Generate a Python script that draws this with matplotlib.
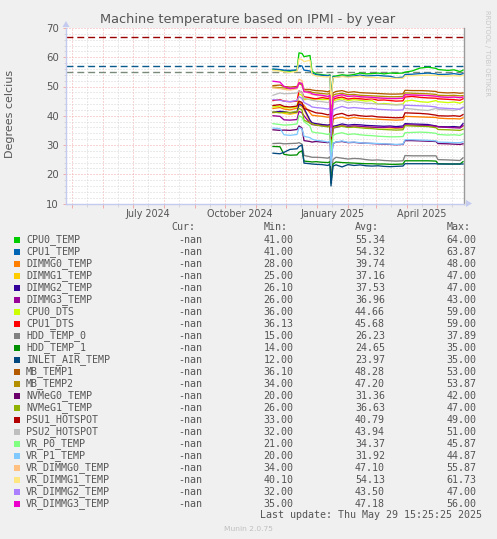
import matplotlib
matplotlib.use("Agg")
import matplotlib.pyplot as plt
import matplotlib.dates as mdates
from matplotlib.ticker import MultipleLocator, FuncFormatter, NullFormatter
from matplotlib.patches import Rectangle, Polygon
import datetime as dt

# ---------------- data ----------------
dates = ["2024-11-18", "2024-11-25", "2024-11-29", "2024-12-05", "2024-12-12", "2024-12-14",
         "2024-12-17", "2024-12-19", "2024-12-25", "2024-12-27", "2024-12-31", "2025-01-06",
         "2025-01-12", "2025-01-14", "2025-01-15", "2025-01-17", "2025-01-20", "2025-01-26",
         "2025-02-01", "2025-02-07", "2025-02-13", "2025-02-19", "2025-02-25", "2025-03-03",
         "2025-03-09", "2025-03-15", "2025-03-21", "2025-03-28", "2025-03-30", "2025-04-06",
         "2025-04-14", "2025-04-22", "2025-04-30", "2025-05-02", "2025-05-12", "2025-05-18",
         "2025-05-24", "2025-05-27"]

cpu0_temp = [55.8, 55.6, 55.3, 55.2, 55.5, 61.5, 61.3, 60.2, 60.6, 55.2, 54.3, 54.0, 53.8, 54.0, 46.0, 53.5,
             53.6, 54.0, 53.8, 54.1, 54.6, 54.3, 54.4, 54.6, 54.3, 54.6, 54.5, 54.6, 54.9, 55.3, 56.3, 56.6,
             56.2, 55.8, 55.5, 55.7, 55.1, 55.6]
cpu1_temp = [56.0, 55.8, 55.6, 55.5, 55.7, 57.2, 57.0, 55.6, 55.3, 54.6, 54.0, 53.8, 53.7, 53.8, 45.0, 53.3,
             53.2, 53.5, 53.4, 53.6, 53.9, 53.6, 53.7, 53.8, 53.6, 53.5, 53.0, 53.2, 54.1, 54.2, 54.4, 54.6,
             54.3, 54.1, 54.2, 54.4, 54.1, 54.4]
dimmg0_temp = [42.5, 42.8, 42.3, 42.0, 42.6, 44.5, 44.0, 43.5, 41.0, 40.2, 40.0, 39.8, 39.5, 39.6, 31.0, 38.8,
               39.2, 39.5, 39.0, 39.4, 39.1, 39.0, 38.9, 38.8, 38.7, 38.6, 38.5, 38.6, 39.8, 39.7, 39.6, 39.5,
               39.4, 39.2, 39.0, 39.0, 38.9, 39.3]
dimmg1_temp = [41.0, 41.3, 40.8, 40.5, 41.0, 43.5, 43.0, 42.0, 38.0, 37.5, 37.2, 37.0, 36.6, 36.8, 28.0, 36.0,
               36.4, 36.7, 36.2, 36.5, 36.3, 36.1, 36.0, 36.0, 35.9, 35.8, 35.7, 35.8, 36.8, 36.7, 36.6, 36.5,
               36.4, 36.2, 36.1, 36.2, 36.0, 36.4]
dimmg2_temp = [41.2, 41.5, 41.4, 41.0, 41.3, 44.0, 43.5, 42.5, 38.5, 37.6, 37.3, 37.0, 36.8, 37.0, 28.0, 36.4,
               36.6, 37.2, 36.8, 37.0, 36.9, 36.7, 36.6, 36.5, 36.4, 36.5, 36.3, 36.5, 37.3, 37.2, 37.1, 37.0,
               36.5, 36.3, 36.2, 36.3, 36.1, 37.3]
dimmg3_temp = [40.0, 39.8, 38.6, 38.5, 38.7, 41.5, 41.0, 40.0, 37.5, 37.0, 36.8, 36.6, 36.3, 36.5, 27.0, 35.8,
               36.0, 36.5, 36.3, 36.5, 36.4, 36.2, 36.1, 36.0, 36.0, 36.1, 35.9, 36.0, 36.9, 36.8, 36.7, 36.6,
               36.4, 36.2, 36.0, 35.9, 35.8, 36.6]
cpu0_dts = [43.0, 43.3, 42.8, 42.7, 43.0, 47.5, 47.0, 45.5, 45.8, 45.5, 45.8, 45.5, 45.6, 45.3, 35.0, 45.0,
            45.4, 45.8, 45.2, 45.5, 45.3, 45.0, 45.2, 44.0, 44.2, 44.0, 43.8, 44.0, 45.0, 45.3, 44.8, 44.6,
            45.2, 44.8, 44.5, 44.7, 44.3, 44.8]
cpu1_dts = [45.2, 45.5, 45.0, 44.8, 45.0, 48.5, 48.0, 46.5, 46.2, 46.0, 45.8, 46.2, 45.9, 46.3, 36.0, 45.5,
            46.0, 46.4, 45.7, 46.0, 45.8, 45.6, 45.8, 45.3, 45.4, 45.2, 45.0, 45.1, 46.4, 46.6, 46.3, 46.1,
            46.0, 45.8, 45.6, 45.5, 45.3, 45.8]
hdd_temp_0 = [30.5, 30.6, 30.4, 30.5, 30.6, 30.8, 30.3, 26.4, 26.0, 25.8, 25.8, 25.7, 25.5, 26.0, 19.0, 25.0,
              25.8, 25.5, 25.2, 25.4, 25.3, 25.0, 24.8, 24.9, 24.7, 24.6, 24.5, 24.6, 26.4, 26.3, 26.3, 26.3,
              26.3, 25.0, 24.9, 24.8, 24.7, 25.6]
hdd_temp_1 = [29.5, 29.4, 26.8, 26.5, 26.6, 27.5, 28.0, 24.5, 24.3, 24.2, 24.3, 24.1, 24.0, 24.3, 17.0, 23.5,
              24.2, 24.0, 23.9, 23.8, 23.7, 23.6, 23.6, 23.5, 23.5, 23.4, 23.4, 23.5, 24.6, 24.6, 24.6, 24.6,
              24.5, 23.6, 23.5, 23.5, 23.5, 24.3]
inlet_air_temp = [27.2, 27.0, 27.5, 28.5, 28.7, 29.5, 30.0, 23.8, 23.6, 23.5, 23.4, 23.3, 23.0, 23.5, 16.0, 22.8,
                  23.2, 22.5, 23.3, 23.0, 23.2, 22.9, 22.8, 22.9, 22.7, 22.6, 22.7, 22.8, 23.6, 23.6, 23.6, 23.6,
                  23.6, 23.5, 23.5, 23.5, 23.5, 23.5]
mb_temp1 = [50.3, 50.5, 50.0, 49.8, 50.0, 51.2, 51.0, 49.0, 49.0, 48.8, 48.6, 48.5, 48.2, 48.6, 38.0, 47.8,
            48.3, 48.6, 48.0, 48.2, 47.9, 47.8, 47.7, 47.6, 47.5, 47.4, 47.4, 47.5, 48.7, 48.6, 48.6, 48.5,
            48.3, 48.0, 47.8, 47.9, 47.7, 47.8]
mb_temp2 = [49.8, 49.6, 49.5, 49.2, 49.5, 51.0, 50.5, 48.5, 48.3, 48.0, 47.8, 47.6, 47.4, 47.8, 37.0, 47.0,
            47.4, 47.7, 47.2, 47.3, 47.0, 46.9, 46.8, 46.7, 46.6, 46.5, 46.5, 46.6, 47.8, 47.7, 47.6, 47.5,
            47.3, 47.0, 46.9, 47.0, 46.8, 46.9]
nvmeg0_temp = [35.2, 35.0, 35.1, 35.0, 35.3, 36.5, 35.8, 31.5, 31.2, 31.0, 31.2, 31.0, 30.8, 31.2, 24.0, 30.5,
               31.0, 31.2, 30.8, 30.9, 30.7, 30.6, 30.5, 30.4, 30.3, 30.2, 30.1, 30.2, 31.5, 31.5, 31.4, 31.3,
               31.2, 30.5, 30.4, 30.3, 30.2, 30.4]
nvmeg1_temp = [41.3, 41.0, 41.2, 41.1, 41.4, 42.5, 42.0, 38.5, 37.5, 37.2, 36.8, 36.5, 36.2, 36.6, 28.0, 35.8,
               36.2, 36.4, 36.0, 36.1, 35.9, 35.7, 35.6, 35.4, 35.3, 35.2, 35.1, 35.2, 36.6, 36.5, 36.4, 36.3,
               35.9, 35.3, 35.2, 35.1, 35.0, 35.4]
psu1_hotspot = [43.5, 43.8, 43.2, 43.0, 43.3, 45.0, 44.5, 42.5, 41.8, 41.5, 41.0, 40.8, 40.3, 40.6, 32.0, 39.8,
                40.4, 40.8, 40.0, 40.3, 40.0, 39.8, 39.9, 39.6, 39.5, 39.4, 39.3, 39.4, 41.0, 40.9, 40.8, 40.6,
                40.2, 40.0, 39.9, 40.0, 39.8, 40.4]
psu2_hotspot = [47.0, 47.8, 47.5, 47.6, 47.8, 48.5, 48.0, 46.0, 45.5, 45.3, 45.0, 44.8, 44.5, 45.0, 35.0, 44.3,
                44.8, 45.2, 44.5, 44.8, 44.6, 44.3, 44.2, 44.0, 43.9, 43.8, 43.7, 43.8, 42.5, 42.3, 42.0, 41.8,
                42.5, 42.2, 42.0, 41.8, 42.4, 43.0]
vr_p0_temp = [37.3, 37.0, 36.8, 36.9, 37.2, 40.0, 39.5, 38.0, 36.5, 34.5, 34.2, 34.0, 33.6, 34.0, 26.0, 33.2,
              33.8, 34.2, 33.6, 33.8, 33.5, 33.3, 33.2, 33.0, 32.9, 32.8, 32.8, 32.9, 34.2, 34.3, 34.4, 34.3,
              34.0, 33.6, 33.4, 33.5, 33.3, 33.8]
vr_p1_temp = [35.8, 35.6, 33.5, 33.3, 33.6, 36.0, 35.5, 33.0, 32.5, 32.0, 31.6, 31.4, 31.0, 31.4, 23.0, 30.6,
              31.0, 31.4, 30.9, 31.0, 30.8, 30.6, 30.6, 30.5, 30.4, 30.3, 30.2, 30.3, 31.8, 31.8, 31.7, 31.6,
              31.4, 31.0, 30.9, 30.8, 30.8, 31.1]
vr_dimmg0_temp = [49.5, 49.3, 49.0, 48.8, 49.2, 52.5, 52.0, 48.5, 47.5, 47.3, 47.0, 46.8, 46.5, 46.9, 36.0, 46.2,
                  46.6, 47.0, 46.5, 46.6, 46.4, 46.2, 46.1, 46.0, 45.9, 45.8, 45.8, 45.9, 47.2, 47.1, 47.0, 46.9,
                  46.7, 46.5, 46.3, 46.4, 46.2, 46.5]
vr_dimmg1_temp = [55.5, 55.3, 55.0, 54.8, 55.2, 59.5, 59.2, 58.5, 59.0, 54.2, 53.6, 53.4, 53.2, 53.5, 44.0, 53.0,
                  53.1, 53.4, 53.2, 53.3, 53.5, 53.2, 53.1, 53.0, 52.9, 52.8, 52.8, 52.8, 53.6, 53.7, 53.8, 53.9,
                  53.8, 53.7, 53.6, 53.7, 53.6, 53.8]
vr_dimmg2_temp = [45.5, 45.3, 45.0, 44.8, 45.2, 46.5, 46.0, 44.5, 43.5, 43.0, 42.8, 42.6, 42.3, 42.7, 33.0, 42.0,
                  42.5, 43.2, 42.6, 42.8, 42.6, 42.4, 42.5, 42.2, 42.1, 42.0, 41.9, 42.0, 43.6, 43.5, 43.4, 43.3,
                  43.0, 42.7, 42.5, 42.4, 42.2, 42.8]
vr_dimmg3_temp = [51.8, 51.5, 50.0, 49.3, 49.6, 51.3, 51.0, 48.2, 48.0, 47.5, 47.2, 47.0, 46.6, 47.0, 36.0, 46.2,
                  46.7, 47.2, 46.6, 46.8, 46.5, 46.4, 46.3, 46.1, 46.0, 45.9, 45.9, 46.0, 47.2, 47.1, 47.0, 46.9,
                  46.7, 46.5, 46.3, 46.4, 46.2, 46.4]

series_names = ["CPU0_TEMP", "CPU1_TEMP", "DIMMG0_TEMP", "DIMMG1_TEMP", "DIMMG2_TEMP", "DIMMG3_TEMP",
                "CPU0_DTS", "CPU1_DTS", "HDD_TEMP_0", "HDD_TEMP_1", "INLET_AIR_TEMP", "MB_TEMP1",
                "MB_TEMP2", "NVMeG0_TEMP", "NVMeG1_TEMP", "PSU1_HOTSPOT", "PSU2_HOTSPOT", "VR_P0_TEMP",
                "VR_P1_TEMP", "VR_DIMMG0_TEMP", "VR_DIMMG1_TEMP", "VR_DIMMG2_TEMP", "VR_DIMMG3_TEMP"]
series_colors = ["#00CC00", "#0066B3", "#FF8000", "#FFCC00", "#330099", "#990099", "#CCFF00", "#FF0000",
                 "#808080", "#008F00", "#00487D", "#B35A00", "#B38F00", "#6B006B", "#8FB300", "#B30000",
                 "#BEBEBE", "#80FF80", "#80C9FF", "#FFC080", "#FFE680", "#AA80FF", "#EE00CC"]
series_values = [cpu0_temp, cpu1_temp, dimmg0_temp, dimmg1_temp, dimmg2_temp, dimmg3_temp, cpu0_dts,
                 cpu1_dts, hdd_temp_0, hdd_temp_1, inlet_air_temp, mb_temp1, mb_temp2, nvmeg0_temp,
                 nvmeg1_temp, psu1_hotspot, psu2_hotspot, vr_p0_temp, vr_p1_temp, vr_dimmg0_temp,
                 vr_dimmg1_temp, vr_dimmg2_temp, vr_dimmg3_temp]

cur_vals = ["-nan"] * 23
min_vals = ["41.00", "41.00", "28.00", "25.00", "26.10", "26.00", "36.00", "36.13", "15.00", "14.00",
            "12.00", "36.10", "34.00", "20.00", "26.00", "33.00", "32.00", "21.00", "20.00", "34.00",
            "40.10", "32.00", "35.00"]
avg_vals = ["55.34", "54.32", "39.74", "37.16", "37.53", "36.96", "44.66", "45.68", "26.23", "24.65",
            "23.97", "48.28", "47.20", "31.36", "36.63", "40.79", "43.94", "34.37", "31.92", "47.10",
            "54.13", "43.50", "47.18"]
max_vals = ["64.00", "63.87", "48.00", "47.00", "47.00", "43.00", "59.00", "59.00", "37.89", "35.00",
            "35.00", "53.00", "53.87", "42.00", "47.00", "49.00", "51.00", "45.87", "44.87", "55.87",
            "61.73", "47.00", "56.00"]

threshold_values = [67, 57, 55]
threshold_colors = ["#990000", "#0a5a8c", "#7a8a7a"]

title = "Machine temperature based on IPMI - by year"
ylabel = "Degrees celcius"
last_update = "Last update: Thu May 29 15:25:25 2025"
y_min, y_max = 10, 70
x_start, x_end = "2024-04-25", "2025-05-28"

# ---------------- figure ----------------
W, H = 497, 539
BG = "#f0f0f0"
TXT = "#555555"
fig = plt.figure(figsize=(W / 100, H / 100), dpi=100, facecolor=BG)


def fx(px):
    return px / W


def fy(py):
    return 1 - py / H


L, R, T, B = 66, 464, 28, 203.5
ax = fig.add_axes([fx(L), fy(B), fx(R) - fx(L), fy(T) - fy(B)])
ax.set_facecolor("white")

xd = [dt.datetime.strptime(d, "%Y-%m-%d") for d in dates]
ax.set_xlim(dt.datetime.strptime(x_start, "%Y-%m-%d"), dt.datetime.strptime(x_end, "%Y-%m-%d"))
ax.set_ylim(y_min, y_max)

# grid
ax.set_axisbelow(True)
ax.yaxis.set_major_locator(MultipleLocator(10))
ax.yaxis.set_minor_locator(MultipleLocator(2))
ax.xaxis.set_major_locator(mdates.MonthLocator(bymonthday=1))
ax.xaxis.set_minor_locator(mdates.MonthLocator(bymonthday=16))
ax.xaxis.set_major_formatter(NullFormatter())


def month_label(v, pos):
    d = mdates.num2date(v)
    return d.strftime("%B %Y") if d.month in (1, 4, 7, 10) else ""


ax.xaxis.set_minor_formatter(FuncFormatter(month_label))

major_c = "#f4aaaa"
minor_c = "#d6d6d6"
ax.grid(which="major", axis="both", color=major_c, linestyle=(0, (1, 2)), linewidth=0.72)
ax.grid(which="minor", axis="both", color=minor_c, linestyle=(0, (1, 2)), linewidth=0.72)

ax.tick_params(axis="x", which="major", length=3, color=major_c, width=0.7, direction="out")
ax.tick_params(axis="x", which="minor", length=2, color=minor_c, width=0.7, direction="out",
               labelsize=6.9, labelcolor=TXT, pad=2)
ax.tick_params(axis="y", which="major", length=2, color=major_c, width=0.7, labelsize=7.3,
               labelcolor=TXT, pad=3)
ax.tick_params(axis="y", which="minor", length=1.5, color=minor_c, width=0.7)

ax.spines["top"].set_visible(False)
ax.spines["left"].set_color("#c4cbef")
ax.spines["bottom"].set_color("#c4cbef")
ax.spines["right"].set_color("#9a9a9a")
for s in ["left", "bottom", "right"]:
    ax.spines[s].set_linewidth(1.0)

# threshold lines
for v, c in zip(threshold_values, threshold_colors):
    ax.axhline(v, color=c, linewidth=1.0, linestyle=(0, (5, 2.8)), zorder=2)

# data
for vals, c in zip(series_values, series_colors):
    ax.plot(xd, vals, color=c, linewidth=0.95, zorder=3)

# axis arrows
arrow_c = "#c4cbef"
fig.patches.append(Polygon([[fx(L - 3.5), fy(T - 1)], [fx(L + 3.5), fy(T - 1)], [fx(L), fy(T - 7)]],
                           closed=True, transform=fig.transFigure, facecolor=arrow_c, edgecolor="none"))
fig.patches.append(Polygon([[fx(R + 2), fy(B - 3.5)], [fx(R + 2), fy(B + 3.5)], [fx(R + 8), fy(B)]],
                           closed=True, transform=fig.transFigure, facecolor=arrow_c, edgecolor="none"))

# texts
fig.text(fx(248), fy(19.3), title, ha="center", va="center", fontsize=9.3, color=TXT)
fig.text(fx(10.5), fy(114), ylabel, ha="center", va="center", rotation=90, fontsize=8.0, color=TXT)
fig.text(fx(487), fy(53), "RRDTOOL / TOBI OETIKER", ha="center", va="center", rotation=270,
         fontsize=4.9, color="#c8c8c8")

mono = "DejaVu Sans Mono"
fs = 7.2
hy = 227.3
for lab, xp in zip(["Cur:", "Min:", "Avg:", "Max:"], [171.7, 263.3, 355, 446.7]):
    fig.text(fx(xp), fy(hy), lab, ha="left", va="center", family=mono, fontsize=fs, color=TXT)

for i, name in enumerate(series_names):
    yc = 239.6 + 12 * i
    fig.patches.append(Rectangle((fx(14), fy(yc + 3)), 6 / W, 6 / H, transform=fig.transFigure,
                                 facecolor=series_colors[i], edgecolor="none"))
    fig.text(fx(26), fy(yc), name, ha="left", va="center", family=mono, fontsize=fs, color=TXT)
    fig.text(fx(202), fy(yc), cur_vals[i], ha="right", va="center", family=mono, fontsize=fs, color=TXT)
    fig.text(fx(293.5), fy(yc), min_vals[i], ha="right", va="center", family=mono, fontsize=fs, color=TXT)
    fig.text(fx(385), fy(yc), avg_vals[i], ha="right", va="center", family=mono, fontsize=fs, color=TXT)
    fig.text(fx(476.7), fy(yc), max_vals[i], ha="right", va="center", family=mono, fontsize=fs, color=TXT)

fig.text(fx(482.3), fy(515.3), last_update, ha="right", va="center", family=mono, fontsize=fs, color=TXT)
fig.text(fx(248), fy(528.7), "Munin 2.0.75", ha="center", va="center", fontsize=5.4, color="#c0c0c0")

fig.savefig("out.png", dpi=100, facecolor=BG)
